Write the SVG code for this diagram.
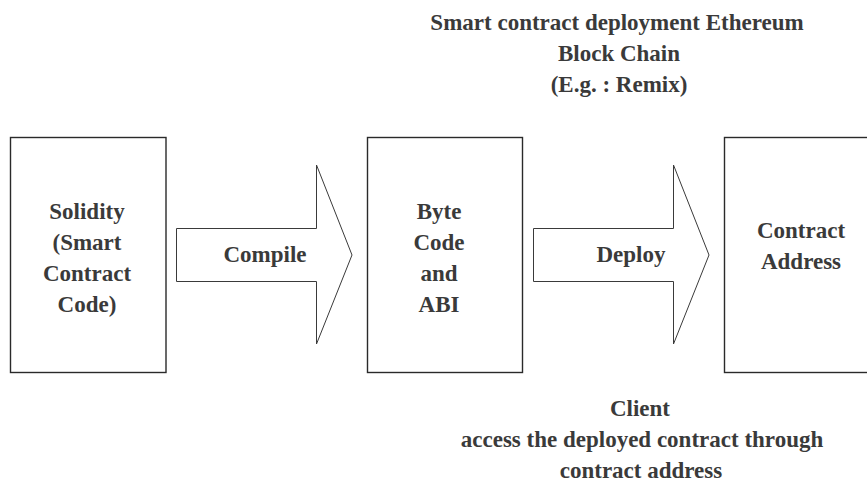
<svg xmlns="http://www.w3.org/2000/svg" width="867" height="483" viewBox="0 0 867 483">
<style>
.box{fill:#fff;stroke:#2a2a2a;stroke-width:1.4}
.arr{fill:#fff;stroke:#3a3a3a;stroke-width:1}
.t{font-family:'Liberation Serif','Times New Roman',Times,'DejaVu Serif',serif;font-weight:700;font-size:23px;fill:#3a3a3a;text-anchor:middle}
</style>
<rect width="867" height="483" fill="#fff"/>
<g id="title" class="t" font-family="Liberation Serif, serif">
<text x="617" y="30">Smart contract deployment Ethereum</text>
<text x="619" y="61">Block Chain</text>
<text x="619" y="92">(E.g. : Remix)</text>
</g>
<g id="solidity">
<rect class="box" x="10.5" y="137.5" width="155.5" height="235"/>
<g class="t">
<text x="87" y="219">Solidity</text>
<text x="87" y="250">(Smart</text>
<text x="87" y="281">Contract</text>
<text x="87" y="312">Code)</text>
</g>
</g>
<g id="bytecode">
<rect class="box" x="367.5" y="137.5" width="155" height="235"/>
<g class="t">
<text x="439" y="219">Byte</text>
<text x="439" y="250">Code</text>
<text x="439" y="281">and</text>
<text x="439" y="312">ABI</text>
</g>
</g>
<g id="address">
<rect class="box" x="724.5" y="137.5" width="160" height="235"/>
<g class="t">
<text x="801" y="238">Contract</text>
<text x="801" y="269">Address</text>
</g>
</g>
<g id="connectors">
<g id="compile">
<polygon class="arr" points="176.5,228.5 316.5,228.5 316.5,165 352,255 316.5,344 316.5,281.5 176.5,281.5"/>
<text class="t" x="265" y="262">Compile</text>
</g>
<g id="deploy">
<polygon class="arr" points="533.5,228.5 673.5,228.5 673.5,165 709,255 673.5,344 673.5,281.5 533.5,281.5"/>
<text class="t" x="631" y="262">Deploy</text>
</g>
</g>
<g id="client" class="t">
<text x="640" y="416">Client</text>
<text x="642" y="447">access the deployed contract through</text>
<text x="641" y="478">contract address</text>
</g>
</svg>
